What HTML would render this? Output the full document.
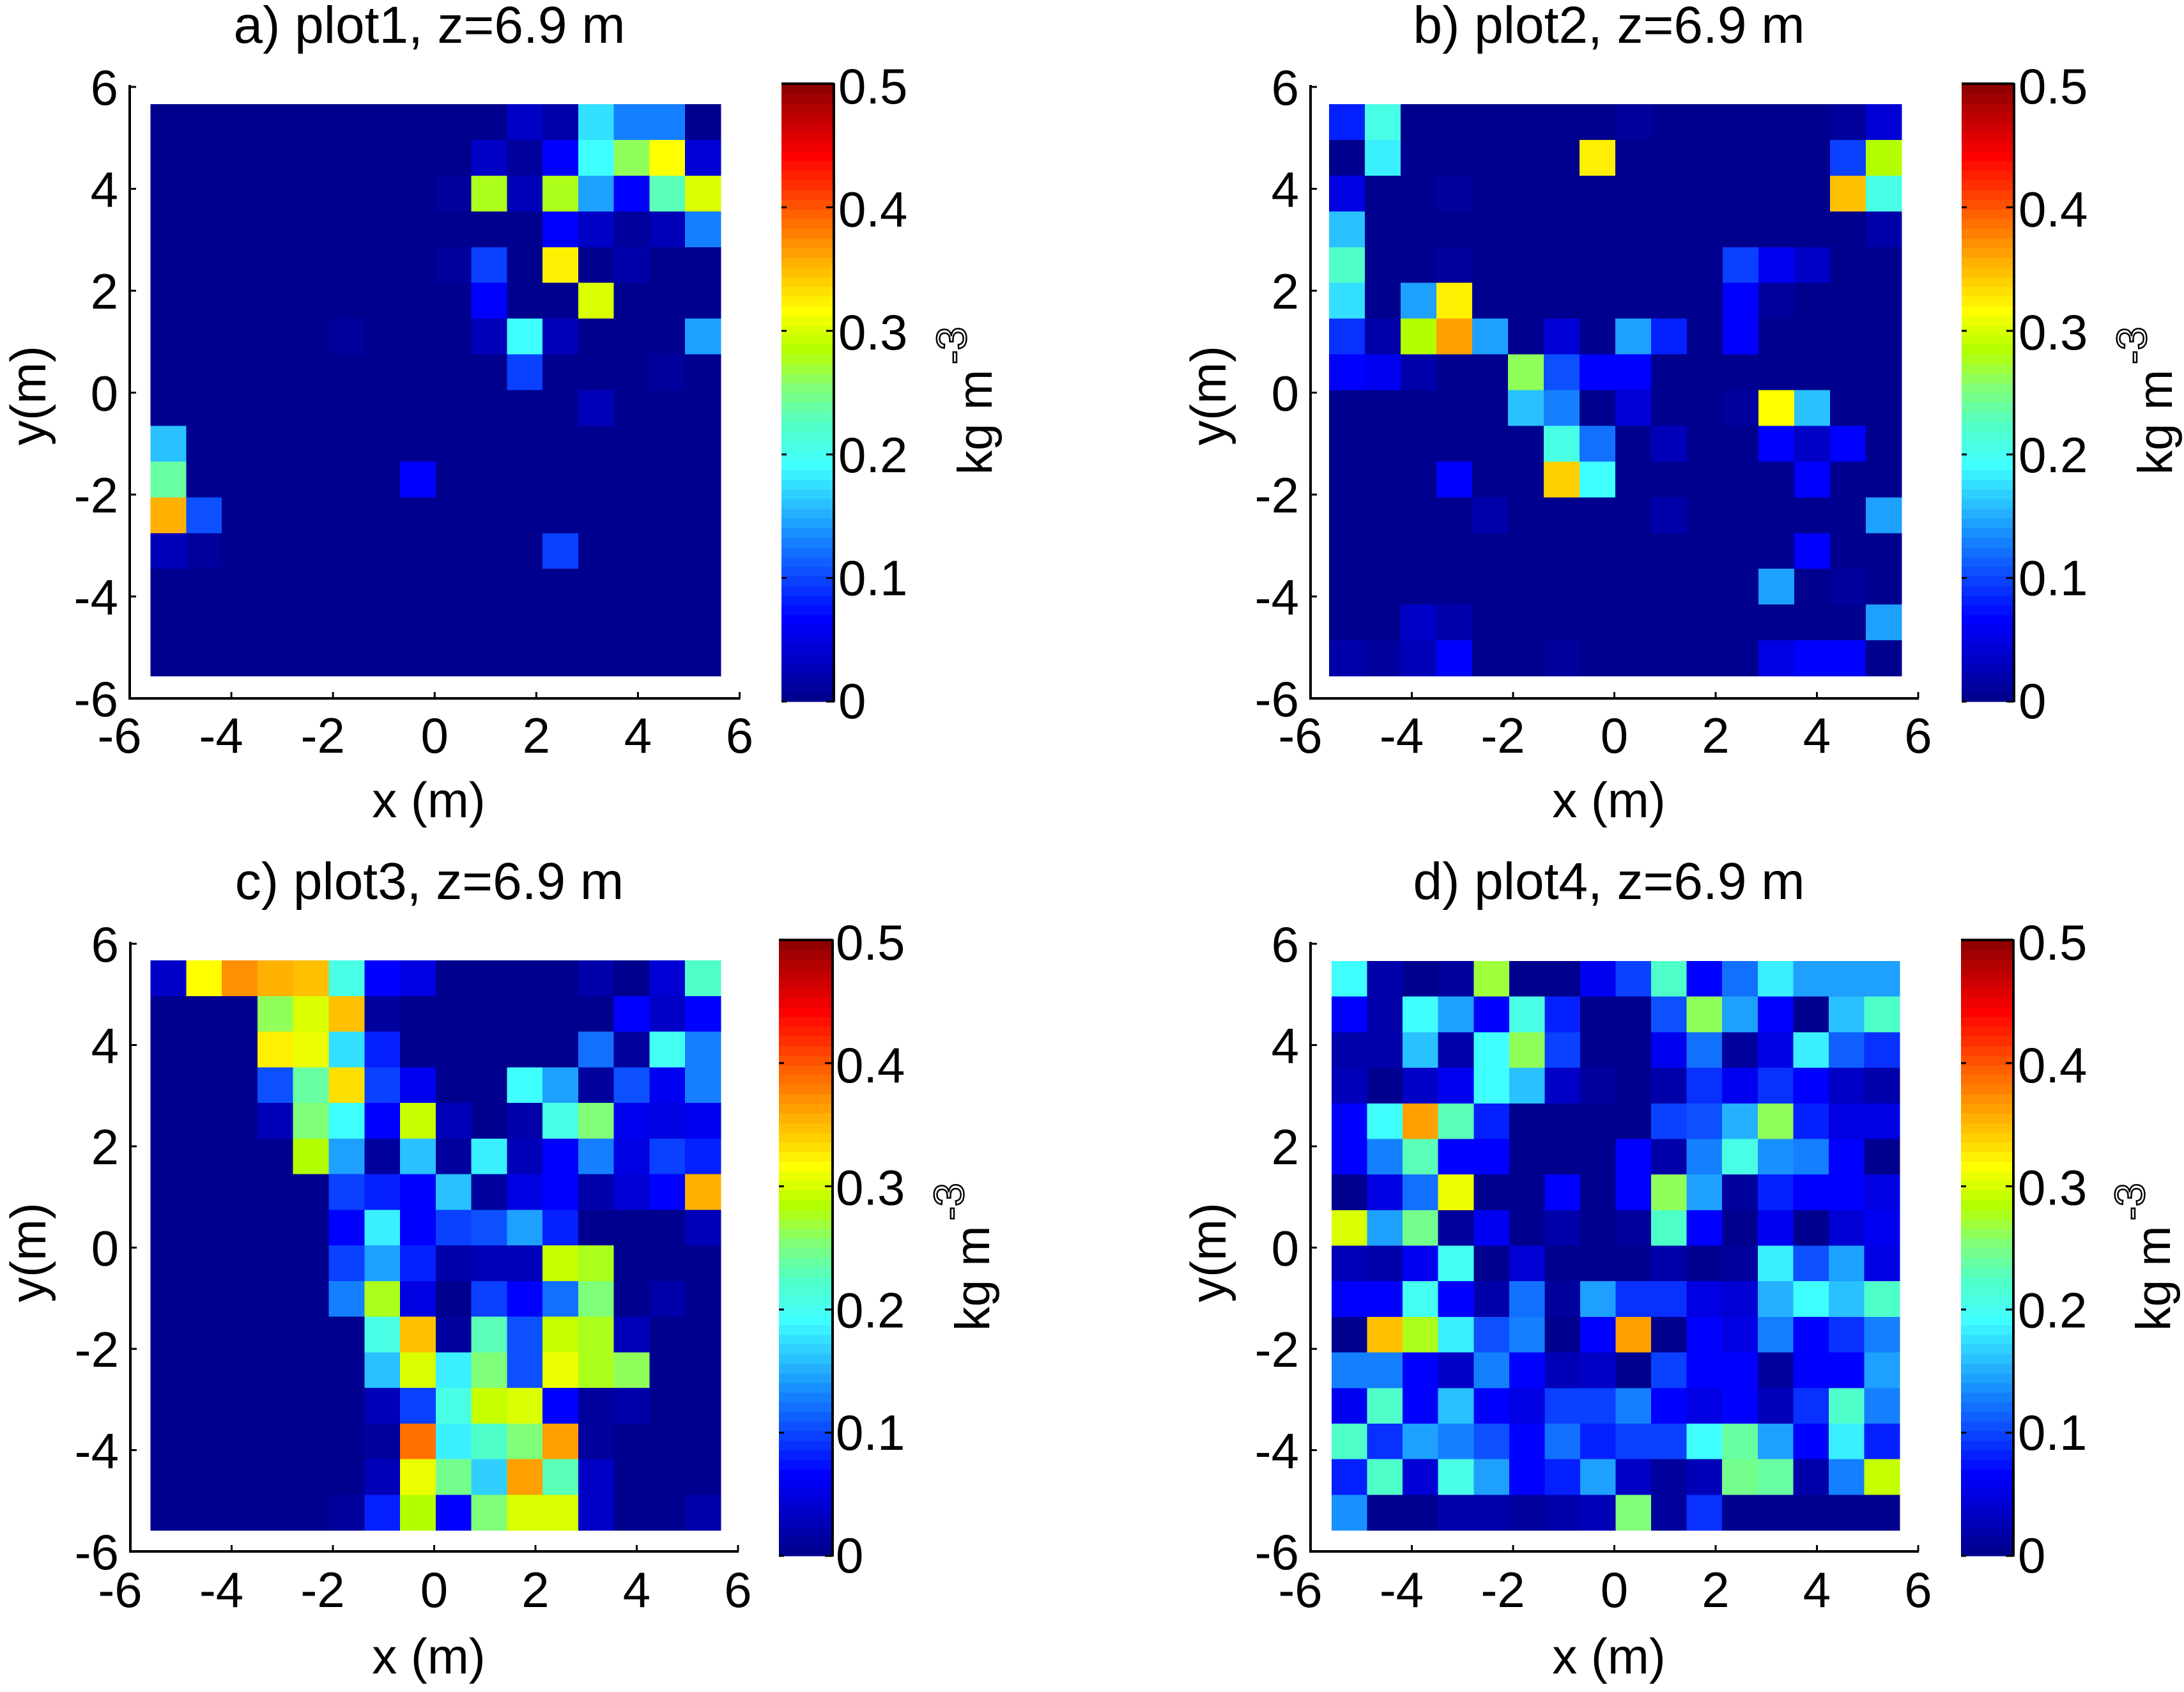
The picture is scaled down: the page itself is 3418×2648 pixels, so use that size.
<!DOCTYPE html>
<html lang="en">
<head>
<meta charset="utf-8">
<title>Density maps at z=6.9 m</title>
<style>
html,body{margin:0;padding:0;background:#fff;}
svg{display:block;}
text{font-family:"Liberation Sans",Arial,sans-serif;fill:#000;}
</style>
</head>
<body>
<svg id="figure" xmlns="http://www.w3.org/2000/svg" width="3418" height="2648" viewBox="0 0 3418 2648"></svg>
<script>
const xCenters = [-5.25,-4.55,-3.85,-3.15,-2.45,-1.75,-1.05,-0.35,0.35,1.05,1.75,2.45,3.15,3.85,4.55,5.25];
const yCenters = [5.25,4.55,3.85,3.15,2.45,1.75,1.05,0.35,-0.35,-1.05,-1.75,-2.45,-3.15,-3.85,-4.55,-5.25];
const xTicks = [-6,-4,-2,0,2,4,6];
const yTicks = [6,4,2,0,-2,-4,-6];
const colorTicks = [0,0.1,0.2,0.3,0.4,0.5];
const colorTickLabels = ['0','0.1','0.2','0.3','0.4','0.5'];
const plotTitles = ['a) plot1, z=6.9 m','b) plot2, z=6.9 m','c) plot3, z=6.9 m','d) plot4, z=6.9 m'];

const plot1Values = [
[0,0,0,0,0,0,0,0,0,0,.032,.015,.175,.122,.128,0],
[0,0,0,0,0,0,0,0,0,.03,.008,.0625,.1875,.258,.3125,.036],
[0,0,0,0,0,0,0,0,.008,.27,.02,.27,.137,.0625,.228,.293],
[0,0,0,0,0,0,0,0,0,0,0,.0625,.03,.004,.024,.122],
[0,0,0,0,0,0,0,0,.005,.094,0,.32,0,.015,0,0],
[0,0,0,0,0,0,0,0,0,.0625,0,0,.3,0,0,0],
[0,0,0,0,0,.01,0,0,0,.024,.1875,.024,0,0,0,.143],
[0,0,0,0,0,0,0,0,0,0,.094,0,0,0,.008,0],
[0,0,0,0,0,0,0,0,0,0,0,0,.024,0,0,0],
[.16,0,0,0,0,0,0,0,0,0,0,0,0,0,0,0],
[.235,0,0,0,0,0,0,.0625,0,0,0,0,0,0,0,0],
[.35,.105,0,0,0,0,0,0,0,0,0,0,0,0,0,0],
[.024,.01,0,0,0,0,0,0,0,0,0,.094,0,0,0,0],
[0,0,0,0,0,0,0,0,0,0,0,0,0,0,0,0],
[0,0,0,0,0,0,0,0,0,0,0,0,0,0,0,0],
[0,0,0,0,0,0,0,0,0,0,0,0,0,0,0,0]
];
const plot2Values = [
[.08,.2,0,0,0,0,0,0,.008,0,0,0,0,0,.008,.036],
[0,.18,0,0,0,0,0,.32,0,0,0,0,0,0,.094,.283],
[.046,0,0,.01,0,0,0,0,0,0,0,0,0,0,.345,.205],
[.16,0,0,0,0,0,0,0,0,0,0,0,0,0,0,.015],
[.22,0,0,.005,0,0,0,0,0,0,0,.094,.055,.03,0,0],
[.173,0,.143,.32,0,0,0,0,0,0,0,.0625,.008,0,0,0],
[.088,.012,.28,.36,.137,0,.04,0,.137,.082,0,.0625,0,0,0,0],
[.0625,.055,.015,0,0,.26,.105,.0625,.0625,0,0,0,0,0,0,0],
[0,0,0,0,0,.153,.122,0,.036,0,0,.008,.3125,.16,0,0],
[0,0,0,0,0,0,.205,.115,0,.02,0,0,.0625,.03,.06,0],
[0,0,0,.0625,0,0,.335,.1875,0,0,0,0,0,.0625,0,0],
[0,0,0,0,.012,0,0,0,0,.015,0,0,0,0,0,.137],
[0,0,0,0,0,0,0,0,0,0,0,0,0,.0625,0,0],
[0,0,0,0,0,0,0,0,0,0,0,0,.137,0,.008,0],
[0,0,.03,.012,0,0,0,0,0,0,0,0,0,0,0,.137],
[.015,.008,.02,.0625,0,0,.008,0,0,0,0,0,.05,.0625,.0625,0]
];
const plot3Values = [
[.032,.3125,.368,.35,.345,.205,.0625,.046,0,0,0,0,.012,0,.036,.22],
[0,0,0,.258,.3,.345,.008,0,0,0,0,0,0,.0625,.032,.0625],
[0,0,0,.32,.306,.168,.078,0,0,0,0,0,.115,.005,.192,.128],
[0,0,0,.105,.235,.328,.094,.055,0,0,.1875,.143,.005,.105,.055,.122],
[0,0,0,.024,.248,.1875,.0625,.29,.02,0,.015,.205,.252,.055,.046,.055],
[0,0,0,0,.28,.137,.008,.153,.008,.18,.02,.0625,.128,.05,.09,.078],
[0,0,0,0,0,.094,.078,.0625,.155,.008,.046,.0625,.015,.04,.0625,.35],
[0,0,0,0,0,.0625,.18,.0625,.094,.105,.143,.078,0,0,0,.024],
[0,0,0,0,0,.094,.143,.08,.012,.024,.02,.287,.27,0,0,0],
[0,0,0,0,0,.122,.27,.046,.003,.094,.0625,.115,.25,0,.012,0],
[0,0,0,0,0,0,.205,.345,.008,.228,.105,.287,.275,.024,0,0],
[0,0,0,0,0,0,.153,.3,.18,.25,.105,.303,.275,.258,0,0],
[0,0,0,0,0,0,.02,.094,.205,.287,.297,.0625,.005,.012,0,0],
[0,0,0,0,0,0,.004,.383,.18,.215,.25,.36,.005,0,0,0],
[0,0,0,0,0,0,.02,.303,.242,.163,.36,.23,.03,0,0,0],
[0,0,0,0,0,.01,.078,.28,.0625,.25,.293,.3,.03,0,0,.012]
];
const plot4Values = [
[.1875,.012,0,.005,.268,0,0,.055,.094,.215,.0625,.115,.18,.137,.137,.137],
[.0625,.012,.1875,.143,.0625,.205,.078,0,0,.105,.26,.137,.0625,0,.16,.222],
[.012,.012,.16,.012,.1875,.255,.094,.003,.003,.058,.115,.005,.046,.18,.11,.088],
[.02,0,.03,.055,.1875,.16,.03,.008,.002,.015,.088,.055,.088,.0625,.03,.012],
[.0625,.1875,.36,.225,.08,0,0,0,0,.09,.105,.148,.26,.075,.05,.046],
[.0625,.128,.225,.0625,.0625,0,0,0,.0625,.015,.128,.205,.133,.122,.0625,0],
[0,.046,.115,.303,0,0,.0625,.003,.06,.26,.143,.004,.08,.06,.0625,.046],
[.293,.143,.242,.01,.055,.003,.015,.003,.006,.215,.0625,.002,.055,0,.04,.055],
[.024,.015,.058,.197,.002,.036,.002,.002,.002,.012,0,.004,.178,.105,.143,.046],
[.06,.06,.197,.0625,.015,.115,.006,.143,.088,.088,.05,.04,.148,.1875,.16,.215],
[0,.345,.272,.18,.105,.122,0,.0625,.36,0,.06,.05,.122,.0625,.085,.128],
[.128,.128,.0625,.03,.128,.0625,.02,.028,0,.094,.0625,.0625,.004,.06,.0625,.137],
[.055,.215,.06,.153,.06,.05,.094,.09,.128,.06,.046,.06,.024,.088,.215,.128],
[.215,.088,.14,.128,.105,.0625,.115,.08,.094,.094,.1875,.238,.137,.0625,.18,.078],
[.075,.215,.036,.205,.137,.0625,.078,.143,.028,.004,.02,.242,.238,.015,.122,.287],
[.133,0,0,.012,.012,.008,.012,.024,.25,.005,.088,0,0,0,0,0]
];

const plotValues = [plot1Values, plot2Values, plot3Values, plot4Values];

const panelLayouts = [
  {axL:203,axR:1157.5,axT:136,axB:1093,imL:235.6,imR:1128,imT:163,imB:1058,cbL:1223,cbR:1305,cbT:131,cbB:1098,labX:1312,titleX:672,titleY:67,xLabX:671,xLabY:1279,yLabX:71,yLabY:619,xTickY:1178,cbLabX:1552,cbSupX:1512,lcT:134,lcB:1096},
  {axL:2051,axR:3002,axT:136,axB:1093,imL:2080,imR:2976,imT:163,imB:1058,cbL:3070,cbR:3152,cbT:131,cbB:1098,labX:3159,titleX:2518,titleY:67,xLabX:2518,xLabY:1279,yLabX:1918,yLabY:619,xTickY:1178,cbLabX:3399,cbSupX:3359,lcT:134,lcB:1096},
  {axL:204,axR:1155,axT:1477,axB:2428,imL:235.6,imR:1128,imT:1503,imB:2395,cbL:1219,cbR:1303,cbT:1471,cbB:2435,labX:1308,titleX:672,titleY:1407,xLabX:671,xLabY:2619,yLabX:71,yLabY:1960,xTickY:2515,cbLabX:1548,cbSupX:1508,lcT:1474,lcB:2433},
  {axL:2051,axR:3002,axT:1477,axB:2428,imL:2084,imR:2973,imT:1504,imB:2395,cbL:3069,cbR:3151,cbT:1471,cbB:2435,labX:3158,titleX:2518,titleY:1407,xLabX:2518,xLabY:2619,yLabX:1918,yLabY:1960,xTickY:2515,cbLabX:3396,cbSupX:3356,lcT:1474,lcB:2433}
];

const colorMax = 0.5;
const colorStops = [[0,0,0,143],[.125,0,0,255],[.25,20,128,255],[.31,40,190,255],[.375,64,255,255],[.44,80,255,200],[.5,128,255,120],[.54,168,255,40],[.56,176,255,0],[.6,224,255,0],[.625,255,255,0],[.75,255,128,0],[.875,255,0,0],[1,128,0,0]];

function jetColor(value) {
  const level = Math.min(63, Math.round(Math.max(0, value / colorMax) * 64));
  const t = level / 64;
  for (let i = 1; i < colorStops.length; i++) {
    const a = colorStops[i - 1], b = colorStops[i];
    if (t <= b[0]) {
      const f = (t - a[0]) / (b[0] - a[0]);
      return 'rgb(' + Math.round(a[1] + (b[1] - a[1]) * f) + ',' + Math.round(a[2] + (b[2] - a[2]) * f) + ',' + Math.round(a[3] + (b[3] - a[3]) * f) + ')';
    }
  }
  return 'rgb(128,0,0)';
}

const NS = 'http://www.w3.org/2000/svg';
const svg = document.getElementById('figure');

function makeNode(tag, props, parent) {
  const el = document.createElementNS(NS, tag);
  for (const k in props) el.setAttribute(k, props[k]);
  parent.appendChild(el);
  return el;
}

function drawPanel(idx) {
  const L = panelLayouts[idx];
  const values = plotValues[idx];
  const g = makeNode('g', {}, svg);
  
  

  const tickX = v => L.axL + (v + 6) * (L.axR - L.axL) / 12;
  const tickY = v => L.axB - (v + 6) * (L.axB - L.axT) / 12;
  const cellX = v => L.imL + (v + 5.6) * (L.imR - L.imL) / 11.2;
  const cellY = v => L.imT + (5.6 - v) * (L.imB - L.imT) / 11.2;
  const cbY = v => L.cbB - v / colorMax * (L.cbB - L.cbT);
  const cbLabelY = v => L.lcB - v / colorMax * (L.lcB - L.lcT);

  const title = makeNode('text', {x:L.titleX, y:L.titleY, 'text-anchor':'middle', 'font-size':82}, g);
  title.textContent = plotTitles[idx];
  
  

  const cells = makeNode('g', {'shape-rendering':'crispEdges'}, g);
  
  
  yCenters.forEach((yc, r) => {
    xCenters.forEach((xc, c) => {
      const x0 = cellX(xc - 0.35), x1 = cellX(xc + 0.35), y0 = cellY(yc + 0.35), y1 = cellY(yc - 0.35);
      const cell = makeNode('rect', {x:x0, y:y0, width:x1 - x0 + 0.5, height:y1 - y0 + 0.5, fill:jetColor(values[r][c])}, cells);
      
      
    });
  });

  const axisX = makeNode('line', {x1:L.axL - 2, x2:L.axR + 1, y1:L.axB, y2:L.axB, stroke:'#000', 'stroke-width':4}, g);
  
  
  const axisY = makeNode('line', {x1:L.axL, x2:L.axL, y1:L.axT - 3, y2:L.axB + 2, stroke:'#000', 'stroke-width':4}, g);
  
  

  xTicks.forEach(v => {
    const x = tickX(v);
    const t = makeNode('line', {x1:x, x2:x, y1:L.axB, y2:L.axB - 10, stroke:'#000', 'stroke-width':3}, g);
    
    
    const lab = makeNode('text', {x:v < 0 ? x - 16 : x, y:L.xTickY, 'text-anchor':'middle', 'font-size':78}, g);
    lab.textContent = String(v);
    
    
  });
  yTicks.forEach(v => {
    const y = tickY(v);
    const t = makeNode('line', {x1:L.axL, x2:L.axL + 10, y1:y, y2:y, stroke:'#000', 'stroke-width':3}, g);
    
    
    const lab = makeNode('text', {x:L.axL - 18, y:y + 28, 'text-anchor':'end', 'font-size':78}, g);
    lab.textContent = String(v);
    
    
  });

  const xLab = makeNode('text', {x:L.xLabX, y:L.xLabY, 'text-anchor':'middle', 'font-size':78}, g);
  xLab.textContent = 'x (m)';
  
  
  const yLab = makeNode('text', {x:0, y:0, transform:'translate(' + L.yLabX + ',' + L.yLabY + ') rotate(-90)', 'text-anchor':'middle', 'font-size':78}, g);
  yLab.textContent = 'y(m)';
  
  

  const bar = makeNode('g', {'shape-rendering':'crispEdges'}, g);
  
  
  for (let i = 0; i < 64; i++) {
    const lo = i / 64 * colorMax, hi = (i + 1) / 64 * colorMax;
    const y1 = cbY(hi), y0 = cbY(lo);
    const seg = makeNode('rect', {x:L.cbL, y:y1, width:L.cbR - L.cbL, height:y0 - y1 + 0.6, fill:jetColor(lo)}, bar);
    
    
  }
  const barRight = makeNode('line', {x1:L.cbR, x2:L.cbR, y1:L.cbT - 1, y2:L.cbB + 1, stroke:'#000', 'stroke-width':4}, g);
  
  
  const barTop = makeNode('line', {x1:L.cbL, x2:L.cbR, y1:L.cbT, y2:L.cbT, stroke:'#000', 'stroke-width':4}, g);
  
  

  colorTicks.forEach((v, i) => {
    const y = cbY(v);
    const t1 = makeNode('line', {x1:L.cbL, x2:L.cbL + 8, y1:y, y2:y, stroke:'#000', 'stroke-width':3}, g);
    
    
    const t2 = makeNode('line', {x1:L.cbR - 12, x2:L.cbR, y1:y, y2:y, stroke:'#000', 'stroke-width':3}, g);
    
    
    const lab = makeNode('text', {x:L.labX, y:cbLabelY(v) + 28, 'font-size':78}, g);
    lab.textContent = colorTickLabels[i];
    
    
  });

  const unitBase = L.cbT + 612;
  const unit = makeNode('text', {x:0, y:0, transform:'translate(' + L.cbLabX + ',' + unitBase + ') rotate(-90)', 'font-size':76}, g);
  unit.textContent = 'kg m';
  
  
  const sup = makeNode('text', {x:0, y:0, transform:'translate(' + L.cbSupX + ',' + (unitBase - 173) + ') rotate(-90)', 'font-size':66, style:'fill:none;stroke:#000;stroke-width:2.5'}, g);
  sup.textContent = '-3';
  
  
}

plotValues.forEach((_, i) => drawPanel(i));
</script>
</body>
</html>
